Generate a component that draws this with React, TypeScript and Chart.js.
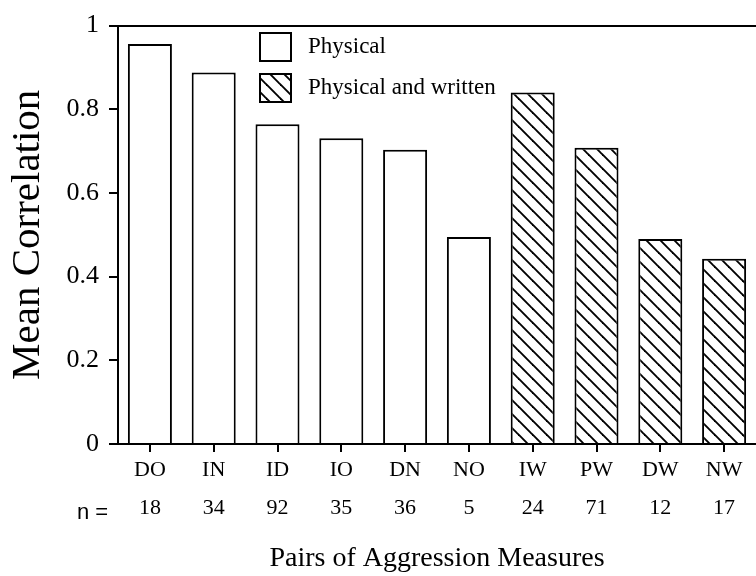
import React, { useEffect, useRef } from "react";
import { Chart, registerables } from "chart.js";

Chart.register(...registerables);

const categories = ["DO", "IN", "ID", "IO", "DN", "NO", "IW", "PW", "DW", "NW"];
const nValues = ["18", "34", "92", "35", "36", "5", "24", "71", "12", "17"];
const physical = [0.956, 0.888, 0.764, 0.731, 0.703, 0.495, null, null, null, null];
const physicalWritten = [null, null, null, null, null, null, 0.84, 0.708, 0.49, 0.443];
const yTicks = [0, 0.2, 0.4, 0.6, 0.8, 1];
const seriesNames = ["Physical", "Physical and written"];
const yTitle = "Mean Correlation";
const xTitle = "Pairs of Aggression Measures";
const nLabel = "n =";

const SERIF = "'Liberation Serif', 'Times New Roman', serif";
const SANS = "'Liberation Sans', Arial, sans-serif";

function makeHatch(): CanvasPattern {
  const s = 14;
  const c = document.createElement("canvas");
  c.width = s;
  c.height = s;
  const g = c.getContext("2d")!;
  g.fillStyle = "#fff";
  g.fillRect(0, 0, s, s);
  g.strokeStyle = "#000";
  g.lineWidth = 1.9;
  for (const k of [-s, 0, s]) {
    g.beginPath();
    g.moveTo(-s, -s + k);
    g.lineTo(2 * s, 2 * s + k);
    g.stroke();
  }
  return g.createPattern(c, "repeat")!;
}

export default function App() {
  const ref = useRef<HTMLCanvasElement | null>(null);

  useEffect(() => {
    if (!ref.current) return;
    const hatch = makeHatch();

    const extras = {
      id: "extras",
      afterDraw(chart: any) {
        const ctx = chart.ctx as CanvasRenderingContext2D;
        const area = chart.chartArea;
        const y = chart.scales.y;
        ctx.save();
        // top frame line
        ctx.strokeStyle = "#000";
        ctx.lineWidth = 2;
        const ty = Math.round(y.getPixelForValue(1));
        ctx.beginPath();
        ctx.moveTo(area.left, ty);
        ctx.lineTo(area.right, ty);
        ctx.stroke();

        // legend
        const fills = ["#fff", hatch];
        const boxes = [
          { x: 260, y: 33, w: 31, h: 28 },
          { x: 260, y: 74, w: 31, h: 28 },
        ];
        ctx.font = `23px ${SERIF}`;
        ctx.textBaseline = "middle";
        ctx.textAlign = "left";
        boxes.forEach((b, i) => {
          ctx.fillStyle = fills[i] as any;
          ctx.fillRect(b.x, b.y, b.w, b.h);
          ctx.lineWidth = 2;
          ctx.strokeStyle = "#000";
          ctx.strokeRect(b.x, b.y, b.w, b.h);
          ctx.fillStyle = "#000";
          ctx.fillText(seriesNames[i], 308, b.y + b.h / 2);
        });

        // n = label
        ctx.font = `22px ${SANS}`;
        ctx.fillText(nLabel, 77, 513);
        ctx.restore();
      },
    };

    const chart = new Chart(ref.current, {
      type: "bar",
      data: {
        labels: categories.map((c, i) => [c, nValues[i]]),
        datasets: [
          {
            label: seriesNames[0],
            data: physical as any,
            backgroundColor: "#fff",
            borderColor: "#000",
            borderWidth: 2,
            grouped: false,
            barPercentage: 0.69,
            categoryPercentage: 1,
          } as any,
          {
            label: seriesNames[1],
            data: physicalWritten as any,
            backgroundColor: hatch as any,
            borderColor: "#000",
            borderWidth: 2,
            grouped: false,
            barPercentage: 0.69,
            categoryPercentage: 1,
          } as any,
        ],
      },
      options: {
        responsive: false,
        animation: false,
        devicePixelRatio: 1,
        layout: { padding: { top: 21, right: 0, left: 0, bottom: 0 } },
        plugins: {
          legend: { display: false },
          tooltip: { enabled: false },
        },
        scales: {
          x: {
            offset: true,
            grid: {
              display: true,
              drawOnChartArea: false,
              drawTicks: true,
              tickLength: 8,
              offset: false,
              color: "#000",
              lineWidth: 2,
            },
            border: { display: true, color: "#000", width: 2 },
            ticks: {
              color: "#000",
              font: { family: SERIF, size: 22, lineHeight: 1.73 },
              padding: -1,
              maxRotation: 0,
              autoSkip: false,
            },
            title: {
              display: true,
              text: xTitle,
              color: "#000",
              font: { family: SERIF, size: 28 },
              padding: { top: 0, bottom: 1 },
            },
            afterFit(scale: any) {
              scale.height = 132;
            },
          },
          y: {
            min: 0,
            max: 1,
            grid: {
              display: true,
              drawOnChartArea: false,
              drawTicks: true,
              tickLength: 9,
              color: "#000",
              lineWidth: 2,
            },
            border: { display: true, color: "#000", width: 2 },
            ticks: {
              color: "#000",
              font: { family: SERIF, size: 26 },
              padding: 10,
              callback: (v: any) => {
                const n = Number(v);
                if (Math.abs(n) < 1e-9) return "0";
                if (Math.abs(n - 1) < 1e-9) return "1";
                return n.toFixed(1);
              },
            },
            afterBuildTicks(scale: any) {
              scale.ticks = yTicks.map((v) => ({ value: v }));
            },
            title: {
              display: true,
              text: yTitle,
              color: "#000",
              font: { family: SERIF, size: 41 },
              padding: { top: 4, bottom: 0 },
            },
            afterFit(scale: any) {
              scale.width = 118;
            },
          },
        },
      },
      plugins: [extras],
    });

    return () => chart.destroy();
  }, []);

  return (
    <div style={{ position: "absolute", left: 0, top: 0, width: 756, height: 576, background: "#fff" }}>
      <canvas ref={ref} width={756} height={576} style={{ display: "block" }} />
    </div>
  );
}
